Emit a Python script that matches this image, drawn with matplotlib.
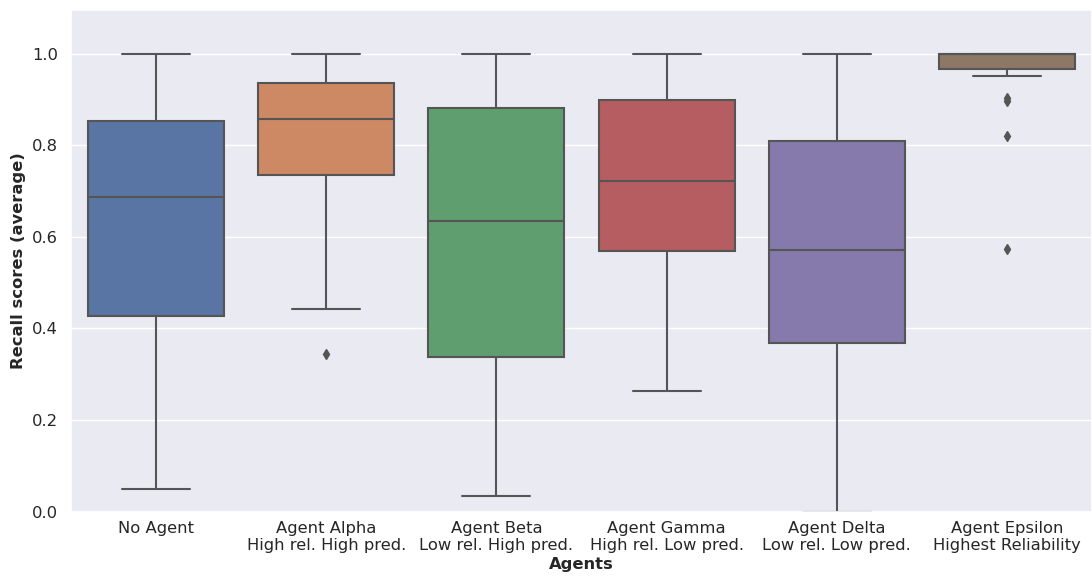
import numpy as np
import matplotlib
matplotlib.use("Agg")
import matplotlib.pyplot as plt
import seaborn as sns

# box statistics per agent, read as quartiles / whisker ends / outliers
agents = ["No Agent",
          "Agent Alpha\nHigh rel. High pred.",
          "Agent Beta\nLow rel. High pred.",
          "Agent Gamma\nHigh rel. Low pred.",
          "Agent Delta\nLow rel. Low pred.",
          "Agent Epsilon\nHighest Reliability"]
q1 = [0.428, 0.734, 0.338, 0.570, 0.368, 0.967]
median = [0.686, 0.857, 0.635, 0.722, 0.571, 1.0]
q3 = [0.853, 0.936, 0.881, 0.899, 0.810, 1.0]
whis_lo = [0.050, 0.443, 0.034, 0.263, 0.0, 0.951]
whis_hi = [1.0, 1.0, 1.0, 1.0, 1.0, 1.0]
outliers = [[], [0.344], [], [], [], [0.903, 0.897, 0.820, 0.573]]

sns.set_theme(style="darkgrid")
colors = sns.color_palette("deep", 6)
colors = [sns.desaturate(c, 0.75) for c in colors]
line_col = "#555555"

fig = plt.figure(figsize=(10.92, 5.76), dpi=100)
ax = fig.add_axes([71 / 1092, 1 - 511.7 / 576, 1 - 71 / 1092, (511.7 - 10) / 576])

stats = []
for i in range(len(agents)):
    stats.append(dict(q1=q1[i], med=median[i], q3=q3[i],
                      whislo=whis_lo[i], whishi=whis_hi[i],
                      fliers=outliers[i], label=agents[i]))

bp = ax.bxp(stats, positions=np.arange(len(agents)), widths=0.8,
            patch_artist=True, showfliers=True,
            boxprops=dict(edgecolor=line_col, linewidth=1.5),
            medianprops=dict(color=line_col, linewidth=1.5),
            whiskerprops=dict(color=line_col, linewidth=1.5),
            capprops=dict(color=line_col, linewidth=1.5),
            flierprops=dict(marker="d", markerfacecolor=line_col,
                            markeredgecolor=line_col, markersize=5))
for patch, c in zip(bp["boxes"], colors):
    patch.set_facecolor(c)

ax.set_xlim(-0.5, len(agents) - 0.5)
ax.set_ylim(0, 1.095)
ax.xaxis.grid(False)
ax.set_yticks([0.0, 0.2, 0.4, 0.6, 0.8, 1.0])
ax.tick_params(labelsize=11.8)
ax.tick_params(axis="x", pad=1)
for lbl in ax.get_xticklabels():
    lbl.set_linespacing(1.15)
ax.set_xlabel("Agents", fontsize=11.8, fontweight="bold", labelpad=3)
ax.set_ylabel("Recall scores (average)", fontsize=11.8, fontweight="bold")

fig.savefig("out.png", dpi=100)
